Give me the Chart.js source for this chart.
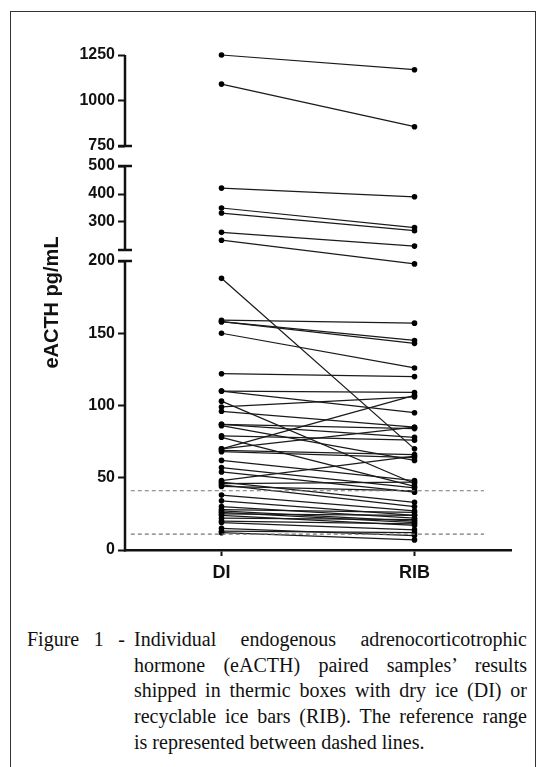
<!DOCTYPE html>
<html>
<head>
<meta charset="utf-8">
<title>eACTH DI vs RIB</title>
<script src="https://cdn.jsdelivr.net/npm/chart.js@4.4.1/dist/chart.umd.min.js"></script>
<style>
  body { margin: 0; width: 543px; height: 767px; overflow: hidden; background: #fff; position: relative; }
  #frame { position: absolute; left: 10px; top: 11px; width: 526px; height: 800px; border: 1.5px solid #333; box-sizing: border-box; }
  #chartBox { position: absolute; left: 0; top: 0; width: 543px; height: 600px; }
  .caption { position: absolute; font-family: "Liberation Serif", "Times New Roman", serif; font-size: 20px; line-height: 25.7px; color: #111; }
  .caption div { text-align: justify; text-align-last: justify; white-space: nowrap; }
  .caption div.last { text-align-last: left; }
  #capLabel { left: 27px; top: 627px; width: 98px; }
  #capText { left: 134px; top: 627px; width: 393px; }
</style>
</head>
<body>
<div id="frame"></div>
<div id="chartBox"><canvas id="myChart" width="543" height="600"></canvas></div>
<div class="caption" id="capLabel"><div>Figure 1 -</div></div>
<div class="caption" id="capText">
  <div>Individual endogenous adrenocorticotrophic</div>
  <div>hormone (eACTH) paired samples’ results</div>
  <div>shipped in thermic boxes with dry ice (DI) or</div>
  <div>recyclable ice bars (RIB). The reference range</div>
  <div class="last">is represented between dashed lines.</div>
</div>
<script>
// paired samples, same order in both arrays
const categories = ['DI', 'RIB'];
const diValues = [1250, 1090, 421, 350, 332, 263, 235, 188, 159, 158, 158, 150, 122, 110, 110, 103, 99,
  96, 87, 87, 86, 79, 78, 70, 70, 69, 68, 62, 57, 54, 48, 47, 46, 45, 44, 38, 34, 30, 28, 27, 26, 25,
  24, 22, 20, 19, 15, 13, 12];
const ribValues = [1169, 856, 390, 280, 269, 214, 198, 70, 157, 145, 143, 126, 120, 109, 95, 46, 106,
  85, 84, 78, 62, 76, 44, 107, 85, 66, 64, 48, 43, 40, 65, 33, 47, 30, 41, 27, 24, 22, 26, 20, 19, 24,
  17, 21, 18, 14, 10, 12, 7];
const refRange = [11, 41];
const yTicks = [0, 50, 100, 150, 200, 300, 400, 500, 750, 1000, 1250];

// broken y axis: value range of each piece and its share of the axis height
const segments = [
  { from: 0, to: 200, start: 0, end: 289 / 495 },
  { from: 200, to: 500, start: 300 / 495, end: 384 / 495 },
  { from: 750, to: 1250, start: 404 / 495, end: 1 }
];

class BrokenScale extends Chart.LinearScale {
  buildTicks() {
    return yTicks.map(v => ({ value: v }));
  }
  getPixelForValue(value) {
    const seg = segments.find(s => value <= s.to) || segments[segments.length - 1];
    const t = (value - seg.from) / (seg.to - seg.from);
    return this.getPixelForDecimal(seg.start + t * (seg.end - seg.start));
  }
}
BrokenScale.id = 'broken';
BrokenScale.defaults = Chart.LinearScale.defaults;
Chart.register(BrokenScale);

// draws the y axis line in pieces with little caps at the breaks
const brokenAxis = {
  id: 'brokenAxis',
  afterDraw(chart) {
    const y = chart.scales.y;
    const x0 = chart.chartArea.left;
    const ctx = chart.ctx;
    ctx.save();
    ctx.strokeStyle = '#111';
    ctx.lineWidth = 2.5;
    segments.forEach((seg, i) => {
      const top = y.getPixelForDecimal(seg.end);
      const bottom = y.getPixelForDecimal(seg.start);
      ctx.beginPath();
      ctx.moveTo(x0, bottom + (i === 0 ? 1.5 : 0));
      ctx.lineTo(x0, top);
      ctx.stroke();
      if (i > 0) {
        ctx.beginPath();
        ctx.moveTo(x0 - 7, bottom);
        ctx.lineTo(x0 + 7, bottom);
        ctx.stroke();
      }
      if (i < segments.length - 1) {
        ctx.beginPath();
        ctx.moveTo(x0 - 7, top);
        ctx.lineTo(x0 + 7, top);
        ctx.stroke();
      }
    });
    ctx.restore();
  }
};

Chart.defaults.font.family = '"Liberation Sans", Arial, sans-serif';
Chart.defaults.color = '#111';

const pairSets = diValues.map((d, i) => ({
  data: [{ x: 0, y: d }, { x: 1, y: ribValues[i] }],
  borderColor: '#1a1a1a',
  borderWidth: 1.25,
  pointRadius: 2.8,
  pointBackgroundColor: '#000',
  pointBorderWidth: 0,
  clip: false
}));

const refSets = refRange.map(v => ({
  data: [{ x: -0.47, y: v }, { x: 1.36, y: v }],
  borderColor: '#777',
  borderWidth: 1.2,
  borderDash: [4, 3],
  pointRadius: 0
}));

const ctx = document.getElementById('myChart').getContext('2d');
new Chart(ctx, {
  type: 'line',
  data: { datasets: [...refSets, ...pairSets] },
  options: {
    responsive: false,
    animation: false,
    layout: { padding: { left: 0, top: 55, right: 32, bottom: 0 } },
    plugins: { legend: { display: false }, tooltip: { enabled: false } },
    scales: {
      x: {
        type: 'linear',
        min: -0.5,
        max: 1.5,
        afterBuildTicks: s => { s.ticks = categories.map((c, i) => ({ value: i })); },
        afterFit: s => { s.height = 50; },
        ticks: {
          callback: v => categories[v],
          font: { size: 18, weight: 'bold' },
          padding: 6,
          color: '#111'
        },
        grid: { drawOnChartArea: false, tickLength: 6, tickWidth: 2, tickColor: '#111' },
        border: { color: '#111', width: 2.5 }
      },
      y: {
        type: 'broken',
        min: 0,
        max: 1250,
        afterFit: s => { s.width = 125; },
        ticks: {
          autoSkip: false,
          callback: v => String(v),
          font: { size: 16, weight: 'bold' },
          padding: 3,
          color: '#111'
        },
        grid: { drawOnChartArea: false, tickLength: 7, tickWidth: 2, tickColor: '#111' },
        border: { display: false },
        title: {
          display: true,
          text: 'eACTH pg/mL',
          font: { size: 20, weight: 'bold' },
          padding: { top: 40, bottom: 0 },
          color: '#111'
        }
      }
    }
  },
  plugins: [brokenAxis]
});
</script>
</body>
</html>
